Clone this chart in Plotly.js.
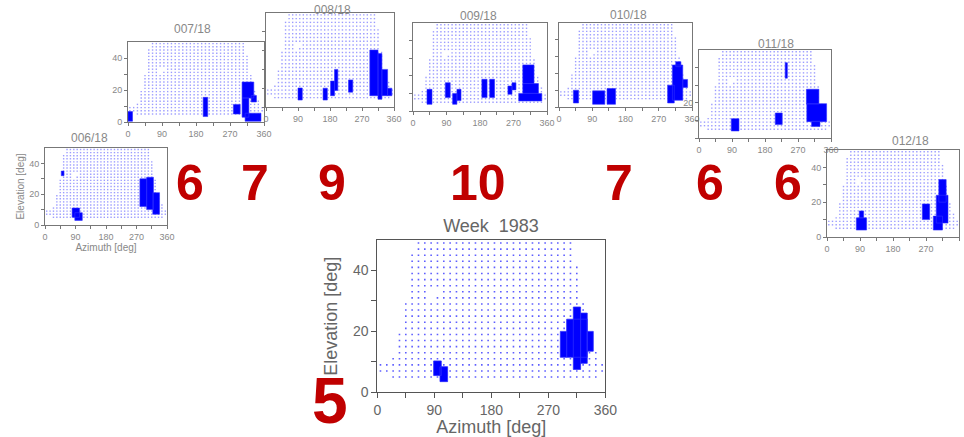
<!DOCTYPE html>
<html>
<head>
<meta charset="utf-8">
<script src="https://cdn.plot.ly/plotly-3.0.1.min.js"></script>
<style>html,body{margin:0;padding:0;background:#fff;}#chart{width:964px;height:437px;}</style>
</head>
<body>
<div id="chart"></div>
<script>
// ---------- data ----------
// sky grid: one row per elevation bin centre [elevation, first azimuth, last azimuth]
const gridStepAz = 10;
const gridRows = [
  [49,65,305],[47,65,305],[45,55,305],[43,55,305],[41,55,315],[39,55,315],
  [37,55,315],[35,55,315],[33,55,315],[31,55,315],[29,45,325],[27,45,325],
  [25,45,325],[23,45,325],[21,45,325],[19,35,335],[17,35,335],[15,35,335],
  [13,35,345],[11,25,345],[9,5,355],[7,5,355],[5,25,345]
];
const gridGaps = [[85,33],[95,33],[85,31]];

// chart titles
const chartTitles = ["006/18","007/18","008/18","009/18","010/18","011/18","012/18"];
const mainTitle = "Week  1983";
// counts shown in red
const countLabels = ["6","7","9","10","7","6","6"];
const mainCount = "5";

// filled regions, as [az0, az1, el0, el1] boxes
const blobsMain = [[89,101,5.5,10.3],[99,111,3.5,8.4],
  [309.5,321,7.5,28],[321,331.5,9.5,26],[331.5,341,13.5,20],[299,331.5,11.5,24],[289,299,11.5,20]];
const blobs006 = [[48,56,32,35],[80,102,5,11],[88,110,3,8],
  [280,300,12,30],[300,320,10,31],[318,338,7,21]];
const blobs007 = [[0,12,0.5,6.5],[199,211,3.4,15.4],
  [302,333,15,25],[302,320,3,15],[279,297,5,11],[326,340,12.5,16.5],[310,352,0.5,5.5]];
const blobs008 = [[90,102,3.7,10.1],[160.5,172.5,3.7,10],[181.6,192.7,6,13.8],[192.7,202,8.8,20],
  [232,244,7.9,14.4],[292,315,6,30.3],[315,326,4.1,28.4],[326,342,6,20],[342,354,6,10]];
const blobs009 = [[37.6,51,3.8,12.3],[86.8,100,7.6,16.1],[106.5,118,3.8,10],[118,129,5.9,12.3],
  [185,199,7.6,18],[206,219,7.6,18],[255,266,9.5,14.2],[266,276.6,12,16.1],
  [295,325,15.6,26.2],[295,337,10,15.6],[284,346,5.7,10]];
const blobs010 = [[39,53,2.4,10],[91,124,1.6,9.6],[130,153,1.6,11],
  [294,312,2.4,13],[307,335,4,25],[316,330,24,27],[335,348,11.6,16.4]];
const blobs011 = [[88,109,4,11],[208,227,7.6,14.2],[235,241,34,42.8],
  [293,327,19.3,27.7],[294,348,9.3,19.5],[307,330,6.5,9.5]];
const blobs012 = [[80,108,4,11],[88,100,11,15],[260,280,10,19],
  [305,325,20,33],[298,330,8,24],[290,315,4,12]];

const smallBlobs = [blobs006,blobs007,blobs008,blobs009,blobs010,blobs011,blobs012];

// ---------- build ----------
function gridPoints(){
  const xs=[], ys=[];
  const gapSet = new Set(gridGaps.map(g=>g[0]+"_"+g[1]));
  gridRows.forEach(r=>{
    for(let a=r[1]; a<=r[2]; a+=gridStepAz){
      if(gapSet.has(a+"_"+r[0])) continue;
      xs.push(a); ys.push(r[0]);
    }
  });
  return {xs, ys};
}
function blobPath(rects){
  const xs=[], ys=[];
  rects.forEach(r=>{
    xs.push(r[0],r[1],r[1],r[0],r[0],null);
    ys.push(r[2],r[2],r[3],r[3],r[2],null);
  });
  return {xs, ys};
}

const W=964, H=437;
const px = v=>v/W, py = v=>1-v/H;

const grid = gridPoints();
const traces = [];
const layout = {
  width:W, height:H, margin:{l:0,r:0,t:0,b:0}, showlegend:false,
  paper_bgcolor:'#fff', plot_bgcolor:'rgba(0,0,0,0)',
  font:{family:'Liberation Sans, Arial, sans-serif', color:'#666'},
  title:{text:mainTitle, x:px(491), y:py(226), xanchor:'center', yanchor:'middle',
         xref:'paper', yref:'paper', font:{size:18, color:'#666'}},
  annotations:[], shapes:[]
};

// main chart
traces.push({type:'scatter', mode:'markers', x:grid.xs, y:grid.ys, xaxis:'x', yaxis:'y',
  marker:{symbol:'square', size:1.6, color:'rgba(40,40,255,0.75)', line:{width:0}}, hoverinfo:'skip'});
const bm = blobPath(blobsMain);
traces.push({type:'scatter', mode:'lines', x:bm.xs, y:bm.ys, xaxis:'x', yaxis:'y', fill:'toself',
  fillcolor:'#0000ff', line:{color:'#2a2aff', width:0.8}, hoverinfo:'skip'});

const xTickVals=[0,45,90,135,180,225,270,315,360];
const xTickText=['0','','90','','180','','270','','360'];
const yTickVals=[0,10,20,30,40];
const yTickText=['0','','20','','40'];

layout.xaxis = {domain:[px(377.3),px(605.3)], range:[0,360], anchor:'y',
  tickvals:xTickVals, ticktext:xTickText, ticks:'outside', ticklen:5, tickcolor:'#555',
  showline:true, linecolor:'#555', mirror:true, showgrid:false, zeroline:false,
  tickfont:{size:14,color:'#666'},
  title:{text:'Azimuth [deg]', font:{size:18,color:'#666'}, standoff:4}};
layout.yaxis = {domain:[py(392.3),py(240)], range:[0,50], anchor:'x',
  tickvals:yTickVals, ticktext:yTickText, ticks:'outside', ticklen:5, tickcolor:'#555',
  showline:true, linecolor:'#555', mirror:true, showgrid:false, zeroline:false,
  tickfont:{size:14,color:'#666'},
  title:{text:'Elevation [deg]', font:{size:18,color:'#666'}, standoff:10}};

// small charts: plot frame [left, top, right, bottom] in pixels
const smallFrames = [[45,148,167,225],[128,42,264,122],[266,13,394,107],[413,23,547,111],
  [559,23,692,107],[699,50,831,138],[827,150,959,237]];
const smallTitlePos = [[89,138],[192,29],[332,10],[478,16],[628,15],[776,44],[910,141]];
const smallYText = [yTickText, yTickText, null, null, null, ['','','20','',''], yTickText];

smallFrames.forEach((f,i)=>{
  const n=i+2, xa='x'+n, ya='y'+n;
  traces.push({type:'scatter', mode:'markers', x:grid.xs, y:grid.ys, xaxis:xa, yaxis:ya,
    marker:{symbol:'square', size:1.4, color:'rgba(90,90,255,0.6)', line:{width:0}}, hoverinfo:'skip'});
  const b = blobPath(smallBlobs[i]);
  traces.push({type:'scatter', mode:'lines', x:b.xs, y:b.ys, xaxis:xa, yaxis:ya, fill:'toself',
    fillcolor:'#0000ff', line:{color:'#3030ff', width:0.6}, hoverinfo:'skip'});
  layout['xaxis'+n] = {domain:[px(f[0]),px(f[2])], range:[0,360], anchor:ya,
    tickvals:xTickVals, ticktext:xTickText, ticks:'outside', ticklen:3, tickcolor:'#777',
    showline:true, linecolor:'#777', mirror:true, showgrid:false, zeroline:false,
    tickfont:{size:9,color:'#888'}};
  layout['yaxis'+n] = {domain:[py(f[3]),py(f[1])], range:[0,50], anchor:xa,
    tickvals:yTickVals, ticktext:smallYText[i] || yTickText, ticks:'outside', ticklen:3, tickcolor:'#777',
    showline:true, linecolor:'#777', mirror:true, showgrid:false, zeroline:false,
    showticklabels:smallYText[i]!==null, tickfont:{size:9,color:'#888'}};
  layout.annotations.push({text:chartTitles[i], x:px(smallTitlePos[i][0]), y:py(smallTitlePos[i][1]),
    xref:'paper', yref:'paper', showarrow:false, xanchor:'center', yanchor:'middle',
    font:{size:12,color:'#888'}});
});
layout.xaxis2.title = {text:'Azimuth [deg]', font:{size:10,color:'#888'}, standoff:0};
layout.yaxis2.title = {text:'Elevation [deg]', font:{size:10,color:'#888'}, standoff:2};

// red counts
const countPos = [190,254.5,332,478,619,710,788];
countLabels.forEach((t,i)=>{
  layout.annotations.push({text:'<b>'+t+'</b>', x:px(countPos[i]), y:py(183), xref:'paper', yref:'paper',
    showarrow:false, xanchor:'center', yanchor:'middle',
    font:{size:50, color:'#c00000', family:'Liberation Sans, Arial, sans-serif'}});
});
layout.annotations.push({text:'<b>'+mainCount+'</b>', x:px(330), y:py(401), xref:'paper', yref:'paper',
  showarrow:false, xanchor:'center', yanchor:'middle',
  font:{size:64, color:'#c00000', family:'Liberation Sans, Arial, sans-serif'}});

Plotly.newPlot('chart', traces, layout, {staticPlot:true, displayModeBar:false});
</script>
</body>
</html>
